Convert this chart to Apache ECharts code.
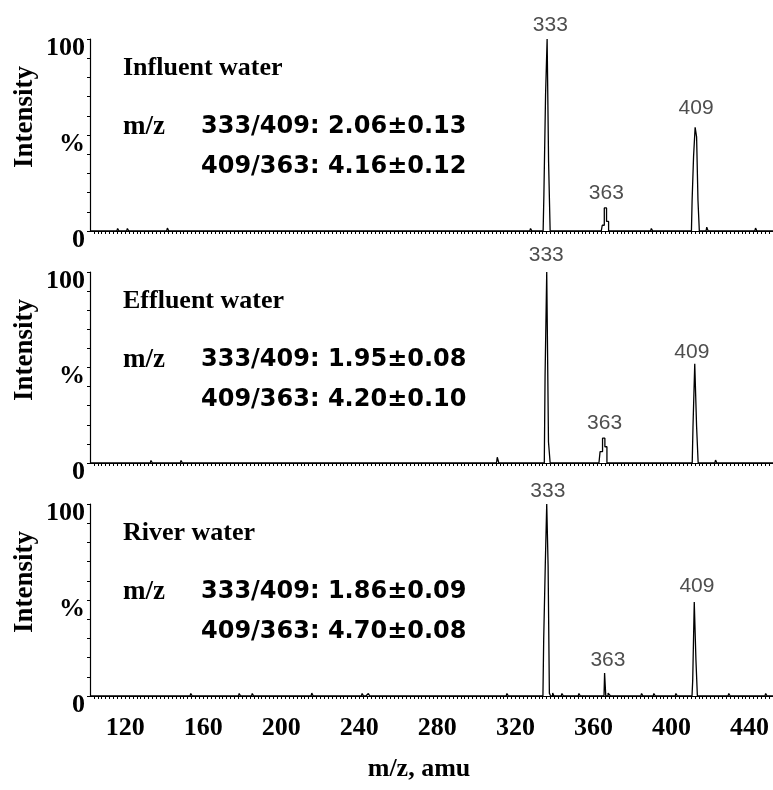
<!DOCTYPE html>
<html>
<head>
<meta charset="utf-8">
<script src="https://cdn.jsdelivr.net/npm/echarts@6/dist/echarts.min.js"></script>
<style>
html, body { margin: 0; padding: 0; background: #fff; }
#main { width: 773px; height: 790px; }
</style>
</head>
<body>
<div id="main"></div>
<script>
// spectra: [m/z, relative intensity %]
var influent = [
    [102, 0], [115.8, 0], [116.5, 1.3], [117.2, 0], [120.8, 0], [121.5, 1.3], [122.2, 0],
    [141.3, 0], [142, 1.5], [142.7, 0], [327.4, 0], [328.1, 1.3], [328.8, 0],
    [334.2, 0], [335.0, 19], [335.9, 71], [336.6, 100], [337.4, 36], [338.2, 0],
    [364.0, 0], [365.0, 3], [366.1, 12], [367.3, 5], [368.2, 0],
    [389.3, 0], [390, 1.3], [390.7, 0],
    [410.2, 0], [410.9, 16], [411.7, 39], [412.5, 54], [413.2, 49], [413.9, 16], [414.6, 0],
    [417.7, 0], [418.4, 2], [419.1, 0], [442.7, 0], [443.4, 1.5], [444.1, 0], [452, 0]
];
var effluent = [
    [102, 0], [132.9, 0], [133.6, 1.3], [134.3, 0], [148.3, 0], [149, 1.3], [149.7, 0],
    [310.3, 0], [311.1, 3], [311.9, 0],
    [334.8, 0], [335.6, 46], [336.5, 100], [337.4, 11], [338.2, 0],
    [362.8, 0], [364.0, 6], [365.3, 13], [366.4, 8.5], [367.4, 0],
    [410.6, 0], [411.4, 19], [412.4, 52], [413.3, 19], [414.0, 0],
    [422.2, 0], [422.9, 1.5], [423.6, 0], [452, 0]
];
var river = [
    [102, 0], [153.3, 0], [154, 1.3], [154.7, 0], [178.1, 0], [178.8, 1.3], [179.5, 0],
    [184.8, 0], [185.5, 1.3], [186.2, 0], [215.3, 0], [216, 1.5], [216.7, 0],
    [241.1, 0], [241.8, 1.3], [242.5, 0], [244.3, 0], [245, 1.3], [245.7, 0],
    [315.3, 0], [316, 1.3], [316.7, 0],
    [334.1, 0], [334.9, 30], [335.7, 68], [336.4, 100], [337.1, 68], [337.7, 1.5], [338.4, 0],
    [338.8, 0], [339.4, 1.5], [340.1, 0], [343.5, 0], [344.2, 1.3], [344.9, 0],
    [352.2, 0], [352.9, 1.3], [353.6, 0],
    [365.4, 0], [366.0, 12], [366.6, 0], [368.4, 1.5], [369.1, 0],
    [384.3, 0], [385, 1.3], [385.7, 0], [390.6, 0], [391.3, 1.3], [392, 0],
    [401.9, 0], [402.6, 1.3], [403.3, 0],
    [410.5, 0], [411.2, 8], [412.1, 49], [412.9, 19], [413.6, 0],
    [429, 0], [429.7, 1.3], [430.4, 0], [447.9, 0], [448.6, 1.3], [449.3, 0], [452, 0]
];

// peak annotations and where their labels sit [m/z, %]
var peakNames = ['333', '363', '409'];
var influentPeakPos = [[337.9, 101.6], [366.6, 14], [412.6, 58.4]];
var effluentPeakPos = [[335.8, 103], [365.7, 15.3], [410.4, 52]];
var riverPeakPos = [[336.6, 101], [367.4, 13], [413, 51.6]];

var sampleNames = ['Influent water', 'Effluent water', 'River water'];
var ratio333409 = ['333/409: 2.06\u00b10.13', '333/409: 1.95\u00b10.08', '333/409: 1.86\u00b10.09'];
var ratio409363 = ['409/363: 4.16\u00b10.12', '409/363: 4.20\u00b10.10', '409/363: 4.70\u00b10.08'];

var xTickLabels = [120, 160, 200, 240, 280, 320, 360, 400, 440];
var xMin = 102, xMax = 452;

var spectra = [influent, effluent, river];
var peakPos = [influentPeakPos, effluentPeakPos, riverPeakPos];
var tops = [39, 272, 504];
var heights = [192, 191, 192];

var serif = '"Liberation Serif", "Times New Roman", serif';

var smallTicks = [];
for (var t = 104; t <= xMax; t += 2) smallTicks.push(t);

var myChart = echarts.init(document.getElementById('main'));

var grids = [], xAxes = [], yAxes = [], series = [], texts = [];

for (var i = 0; i < 3; i++) {
    grids.push({left: 90, right: 0, top: tops[i], height: heights[i], outerBoundsMode: 'none'});
    var last = i === 2;
    xAxes.push({
        type: 'value', gridIndex: i, min: xMin, max: xMax,
        axisLine: {lineStyle: {color: '#000', width: 1.2}},
        axisTick: {show: true, length: 3, customValues: smallTicks, lineStyle: {color: '#000'}},
        axisLabel: {
            show: last, customValues: xTickLabels, margin: 19,
            color: '#000', fontFamily: serif, fontWeight: 'bold', fontSize: 26
        },
        splitLine: {show: false}
    });
    yAxes.push({
        type: 'value', gridIndex: i, min: 0, max: 100, interval: 10,
        axisLine: {show: true, lineStyle: {color: '#000', width: 1.2}},
        axisTick: {show: true, length: 3, lineStyle: {color: '#000'}},
        axisLabel: {
            margin: 5, color: '#000', fontFamily: serif, fontWeight: 'bold', fontSize: 26,
            verticalAlign: 'top', lineHeight: 18,
            formatter: function (v) { return v === 100 ? '100' : v === 50 ? '%' : v === 0 ? '0' : ''; }
        },
        splitLine: {show: false}
    });
    series.push({
        type: 'line', xAxisIndex: i, yAxisIndex: i, step: 'middle',
        showSymbol: false, data: spectra[i], z: 10,
        lineStyle: {color: '#000', width: 1.3}
    });
    series.push({
        type: 'scatter', xAxisIndex: i, yAxisIndex: i, clip: false,
        symbolSize: 1, itemStyle: {color: 'rgba(0,0,0,0)'},
        data: peakPos[i],
        label: {
            show: true, position: 'top', distance: 0,
            color: '#222', fontFamily: '"Liberation Sans", Arial, sans-serif', fontSize: 21,
            formatter: function (p) { return peakNames[p.dataIndex]; }
        }
    });

    var T = tops[i];
    texts.push({type: 'text', x: 123, y: T + 29.5, style: {text: sampleNames[i], font: 'bold 26px ' + serif, fill: '#000', verticalAlign: 'middle'}});
    texts.push({type: 'text', x: 123, y: T + 88, style: {text: 'm/z', font: 'bold 27px ' + serif, fill: '#000', verticalAlign: 'middle'}});
    texts.push({type: 'text', x: 201, y: T + 87.5, style: {text: ratio333409[i], font: 'bold 24px "DejaVu Sans", sans-serif', fill: '#000', verticalAlign: 'middle'}});
    texts.push({type: 'text', x: 201, y: T + 128, style: {text: ratio409363[i], font: 'bold 24px "DejaVu Sans", sans-serif', fill: '#000', verticalAlign: 'middle'}});
    texts.push({type: 'text', x: 25, y: T + 78, rotation: Math.PI / 2, style: {text: 'Intensity', font: 'bold 27px ' + serif, fill: '#000', align: 'center', verticalAlign: 'middle'}});
}

texts.push({type: 'text', x: 419, y: 769, style: {text: 'm/z, amu', font: 'bold 26px ' + serif, fill: '#000', align: 'center', verticalAlign: 'middle'}});

option = {
    animation: false,
    backgroundColor: '#fff',
    grid: grids,
    xAxis: xAxes,
    yAxis: yAxes,
    series: series,
    graphic: texts
};

myChart.setOption(option);
window.onresize = myChart.resize;
</script>
</body>
</html>
